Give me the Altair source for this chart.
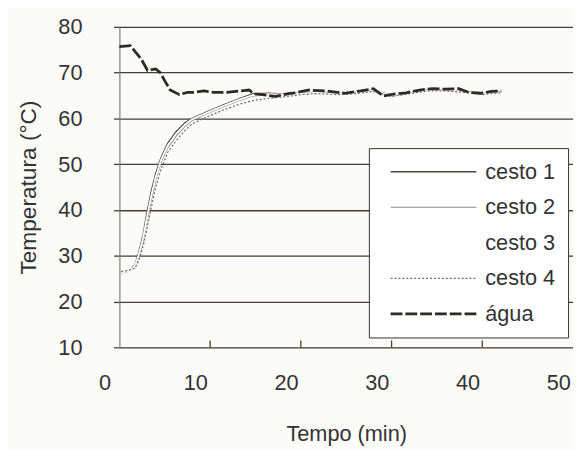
import altair as alt
import pandas as pd

series_names = ["cesto 1", "cesto 2", "cesto 3", "cesto 4", "água"]

# água (water temperature)
agua_t = [0.0, 1.2, 2.4, 3.1, 4.0, 4.5, 5.0, 5.6, 6.6, 7.5, 8.3, 9.3, 10.4, 11.8, 13.2, 14.3,
          14.8, 15.8, 17.2, 18.6, 19.4, 20.8, 22.9, 24.8, 26.6, 28.0, 29.1, 30.2, 31.6, 33.1,
          34.5, 35.9, 37.4, 38.5, 39.9, 41.0, 42.1]
agua_T = [75.7, 75.9, 73.0, 70.5, 70.8, 70.0, 68.2, 66.2, 65.2, 65.7, 65.7, 66.0, 65.7, 65.7,
          66.0, 66.2, 65.4, 65.2, 64.8, 65.4, 65.6, 66.2, 66.0, 65.5, 66.0, 66.5, 64.9, 65.3,
          65.6, 66.2, 66.5, 66.4, 66.5, 65.7, 65.5, 65.9, 66.0]

# baskets (shared time grid)
cesto_t = [0.2, 1.0, 1.7, 2.1, 2.6, 3.0, 3.5, 4.0, 4.6, 5.3, 6.2, 7.2, 8.0, 9.6, 11.4, 13.2,
           14.7, 16.5, 18.5, 20.5, 22, 24, 26, 28, 30, 32, 34, 36, 38, 40, 42]
cesto1_T = [26.3, 26.6, 28.0, 30.5, 34.5, 39.0, 44.0, 48.0, 51.5, 54.5, 57.0, 59.0, 60.0, 61.4,
            62.9, 64.3, 65.4, 65.5, 65.3, 65.6, 65.7, 65.4, 65.6, 66.2, 65.0, 65.6, 66.2, 66.2,
            65.9, 65.4, 65.8]
cesto2_T = [26.5, 26.7, 27.6, 29.5, 33.0, 37.0, 42.0, 46.5, 50.5, 53.5, 56.0, 58.2, 59.5, 61.0,
            62.5, 63.9, 64.9, 65.2, 65.1, 65.4, 65.5, 65.3, 65.5, 66.0, 64.9, 65.5, 66.1, 66.1,
            65.8, 65.3, 65.7]
cesto3_T = [26.4, 26.6, 27.8, 30.0, 33.8, 38.0, 43.0, 47.2, 51.0, 54.0, 56.5, 58.6, 59.8, 61.2,
            62.7, 64.1, 65.1, 65.3, 65.2, 65.5, 65.6, 65.3, 65.5, 66.1, 65.0, 65.5, 66.1, 66.2,
            65.8, 65.3, 65.7]
cesto4_T = [26.6, 26.8, 27.3, 28.8, 32.0, 35.5, 40.5, 45.0, 49.0, 52.5, 55.0, 57.3, 58.8, 60.3,
            61.8, 63.1, 63.9, 64.4, 64.8, 65.3, 65.4, 65.2, 65.4, 65.9, 64.8, 65.4, 66.0, 66.0,
            65.7, 65.2, 65.6]

x_ticks = [0, 10, 20, 30, 40, 50]
x_inner_ticks = [10, 20, 30, 40]
y_ticks = [10, 20, 30, 40, 50, 60, 70, 80]

rows = []
for name, vals in zip(series_names[:4], [cesto1_T, cesto2_T, cesto3_T, cesto4_T]):
    for i, (t, v) in enumerate(zip(cesto_t, vals)):
        rows.append({"serie": name, "t": t, "T": v, "o": i})
for i, (t, v) in enumerate(zip(agua_t, agua_T)):
    rows.append({"serie": "água", "t": t, "T": v, "o": i})
df = pd.DataFrame(rows)
ticks_df = pd.DataFrame({"tx": x_inner_ticks})

FONT = "Liberation Sans"
TXT = "#333333"
GRID = "#4b3d31"

legend = alt.Legend(
    title=None, orient="none", legendX=253, legendY=123,
    fillColor="#ffffff", strokeColor="#333333", padding=13,
    symbolType="M-1,0H16.4", symbolSize=100, symbolOffset=3,
    labelOffset=80, labelFontSize=22, labelFont=FONT, labelColor=TXT,
    rowPadding=14, labelLimit=200,
)

lines = alt.Chart(df).mark_line(interpolate="linear").encode(
    x=alt.X("t:Q", scale=alt.Scale(domain=[0, 50], nice=False),
            axis=alt.Axis(values=x_ticks, grid=False, domain=False, ticks=False,
                          labelFontSize=22, labelFont=FONT, labelColor=TXT,
                          labelPadding=26, labelOffset=-15, labelFlush=False,
                          title="Tempo (min)", titleFontSize=22, titleFont=FONT,
                          titleFontWeight="normal", titleColor=TXT,
                          titleY=94, titleBaseline="alphabetic")),
    y=alt.Y("T:Q", scale=alt.Scale(domain=[10, 80], nice=False),
            axis=alt.Axis(values=y_ticks, grid=True, gridColor=GRID, gridWidth=1.3,
                          gridOpacity=1, tickColor=GRID, tickSize=6, tickWidth=1.3,
                          domainColor="#777777", domainWidth=1,
                          labelFontSize=22, labelFont=FONT, labelColor=TXT,
                          labelPadding=32,
                          title="Temperatura (°C)", titleFontSize=23, titleFont=FONT,
                          titleFontWeight="normal", titleColor=TXT, titleX=-80)),
    color=alt.Color("serie:N", scale=alt.Scale(domain=series_names,
                    range=["#4a4440", "#8c8c8c", "#ffffff", "#6a6a6a", "#2e2a26"]),
                    legend=legend),
    strokeDash=alt.StrokeDash("serie:N", scale=alt.Scale(domain=series_names,
                    range=[[1, 0], [1, 0], [1, 0], [2, 2], [12, 3]]), legend=legend),
    strokeWidth=alt.StrokeWidth("serie:N", scale=alt.Scale(type="ordinal", domain=series_names,
                    range=[1.4, 1.1, 1.8, 1.2, 2.8]), legend=legend),
    order="o:Q",
)

inner_ticks = alt.Chart(ticks_df).mark_rule(color=GRID, strokeWidth=1.3).encode(
    x="tx:Q", y=alt.datum(10), y2=alt.datum(11.5)
)

chart = alt.layer(lines, inner_ticks).properties(
    width=460, height=325,
    autosize=alt.AutoSizeParams(type="none"),
    padding={"left": 113, "top": 16, "right": 0, "bottom": 101},
    background="#fbfbf8",
).configure_view(fill="#d6d6d0", strokeWidth=0).configure(font=FONT)

chart.save("out.html", embed_options={"renderer": "svg", "actions": False})
